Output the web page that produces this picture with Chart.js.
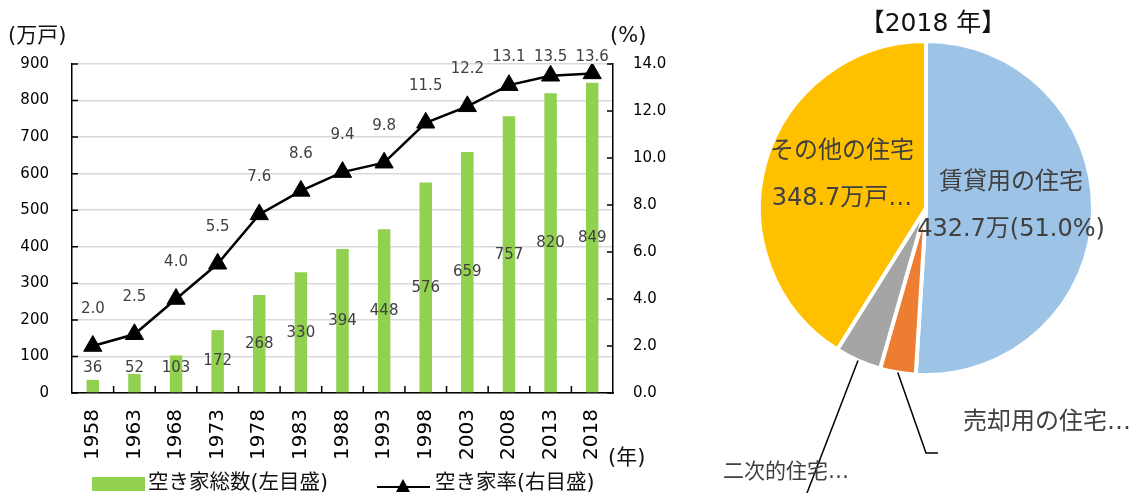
<!DOCTYPE html>
<html><head><meta charset="utf-8">
<script src="https://cdn.jsdelivr.net/npm/chart.js@4.4.1/dist/chart.umd.min.js"></script>
<style>
html,body{margin:0;padding:0;background:#fff;width:1131px;height:493px;overflow:hidden;position:relative;}
.t{position:absolute;white-space:nowrap;font-family:'DejaVu Sans','Noto Sans CJK JP',sans-serif;color:#111;}
canvas{position:absolute;top:0;}
</style></head><body>
<canvas id="bar" width="700" height="493" style="left:0"></canvas>
<canvas id="pie" width="431" height="493" style="left:700px"></canvas>
<div class="t" style="left:8px;top:25px;font-size:21px;line-height:21px">(万戸)</div>
<div class="t" style="left:610px;top:25px;font-size:21px;line-height:21px">(%)</div>
<div class="t" style="left:608px;top:447px;font-size:21px;line-height:21px">(年)</div>
<div class="t" style="left:933px;top:10px;font-size:25px;line-height:25px;transform:translateX(-50%)">【2018 年】</div>
<div style="position:absolute;left:92px;top:477px;width:53px;height:14px;background:#92D050"></div>
<div class="t" style="left:148px;top:472px;font-size:20.5px;line-height:20px">空き家総数(左目盛)</div>
<div style="position:absolute;left:377px;top:486px;width:53px;height:2px;background:#000"></div>
<div style="position:absolute;left:396px;top:479px;width:0;height:0;border-left:7.5px solid transparent;border-right:7.5px solid transparent;border-bottom:13px solid #000"></div>
<div class="t" style="left:435px;top:472px;font-size:20.5px;line-height:20px">空き家率(右目盛)</div>
<script>
// ---- data ----
const years = ['1958','1963','1968','1973','1978','1983','1988','1993','1998','2003','2008','2013','2018'];
const vacantHomes = [36, 52, 103, 172, 268, 330, 394, 448, 576, 659, 757, 820, 849];
const vacancyRate = [2.0, 2.5, 4.0, 5.5, 7.6, 8.6, 9.4, 9.8, 11.5, 12.2, 13.1, 13.5, 13.6];
const leftTicks = [0, 100, 200, 300, 400, 500, 600, 700, 800, 900];
const rightTicks = [0, 2, 4, 6, 8, 10, 12, 14];
const pieCategories = ['賃貸用の住宅', '売却用の住宅', '二次的住宅', 'その他の住宅'];
const pieValues = [432.7, 29.3, 38.1, 348.7];

const FONT = "'DejaVu Sans','Noto Sans CJK JP',sans-serif";
const pieColors = ['#9DC3E6', '#ED7D31', '#A5A5A5', '#FFC000'];

const tickMarks = {
  id: 'tickMarks',
  afterDraw(chart) {
    const ctx = chart.ctx, a = chart.chartArea;
    const x = chart.scales.x, y = chart.scales.y, y1 = chart.scales.y1;
    ctx.save();
    ctx.strokeStyle = '#000'; ctx.lineWidth = 1.5;
    ctx.beginPath();
    y.ticks.forEach(t => { const p = y.getPixelForValue(t.value); ctx.moveTo(a.left, p); ctx.lineTo(a.left + 6, p); });
    y1.ticks.forEach(t => { const p = y1.getPixelForValue(t.value); ctx.moveTo(a.right - 6, p); ctx.lineTo(a.right, p); });
    for (let i = 1; i < years.length; i++) {
      const p = (x.getPixelForValue(i - 1) + x.getPixelForValue(i)) / 2;
      ctx.moveTo(p, a.bottom); ctx.lineTo(p, a.bottom - 7);
    }
    ctx.stroke();
    ctx.restore();
  }
};

const valueLabels = {
  id: 'valueLabels',
  afterDatasetsDraw(chart) {
    const ctx = chart.ctx, a = chart.chartArea;
    const y = chart.scales.y;
    ctx.save();
    ctx.fillStyle = '#404040';
    ctx.font = '15px ' + FONT;
    ctx.textAlign = 'center';
    ctx.textBaseline = 'middle';
    const bars = chart.getDatasetMeta(0).data;
    bars.forEach((b, i) => {
      const v = vacantHomes[i];
      let py = y.getPixelForValue(v / 2);
      py = Math.min(py, y.getPixelForValue(0) - 25);
      ctx.fillText(String(v), b.x, py);
    });
    const pts = chart.getDatasetMeta(1).data;
    pts.forEach((p, i) => {
      const py = Math.max(p.y - 37, a.top - 7);
      ctx.fillText(vacancyRate[i].toFixed(1), p.x, py);
    });
    ctx.restore();
  }
};

new Chart(document.getElementById('bar'), {
  type: 'bar',
  data: {
    labels: years,
    datasets: [
      { type: 'bar', label: '空き家総数(左目盛)', data: vacantHomes, backgroundColor: '#92D050',
        yAxisID: 'y', order: 1, barPercentage: 0.3, categoryPercentage: 1 },
      { type: 'line', label: '空き家率(右目盛)', data: vacancyRate, yAxisID: 'y1', order: 0,
        borderColor: '#000', borderWidth: 2.5, pointStyle: 'triangle', pointRadius: 10.5,
        pointBackgroundColor: '#000', pointBorderColor: '#000', pointBorderWidth: 1, tension: 0, fill: false }
    ]
  },
  options: {
    responsive: false, animation: false, devicePixelRatio: 1,
    layout: { padding: { top: 64, left: 0, right: 0, bottom: 0 } },
    plugins: { legend: { display: false }, tooltip: { enabled: false } },
    scales: {
      x: {
        grid: { display: false, drawTicks: false },
        border: { display: true, color: '#000', width: 1.5 },
        ticks: { minRotation: 90, maxRotation: 90, autoSkip: false, padding: 16, color: '#000', font: { family: FONT, size: 20 } },
        afterFit(s) { s.height = 100; }
      },
      y: {
        position: 'left', min: 0, max: 900,
        afterBuildTicks(s) { s.ticks = leftTicks.map(v => ({ value: v })); },
        grid: { color: '#d9d9d9', lineWidth: 1.5, drawTicks: false },
        border: { display: true, color: '#000', width: 1.5 },
        ticks: { padding: 23, color: '#000', font: { family: FONT, size: 15 } },
        afterFit(s) { s.width = 72; }
      },
      y1: {
        position: 'right', min: 0, max: 14,
        afterBuildTicks(s) { s.ticks = rightTicks.map(v => ({ value: v })); },
        grid: { display: false, drawTicks: false },
        border: { display: true, color: '#000', width: 1.5 },
        ticks: { padding: 20, color: '#000', font: { family: FONT, size: 15 }, callback: v => Number(v).toFixed(1) },
        afterFit(s) { s.width = 87; }
      }
    }
  },
  plugins: [tickMarks, valueLabels]
});

const total = pieValues.reduce((s, v) => s + v, 0);
const pieLabelText = [
  [pieCategories[0], pieValues[0].toFixed(1) + '万(' + (pieValues[0] / total * 100).toFixed(1) + '%)'],
  [pieCategories[1] + '…'],
  [pieCategories[2] + '…'],
  [pieCategories[3], pieValues[3].toFixed(1) + '万戸…']
];

const pieLabels = {
  id: 'pieLabels',
  afterDraw(chart) {
    const ctx = chart.ctx;
    const arcs = chart.getDatasetMeta(0).data;
    ctx.save();
    ctx.strokeStyle = '#000'; ctx.lineWidth = 1.5;
    const leader = (i, pts) => {
      const a = arcs[i];
      const mid = (a.startAngle + a.endAngle) / 2;
      const r = a.outerRadius;
      ctx.beginPath();
      ctx.moveTo(a.x + Math.cos(mid) * r, a.y + Math.sin(mid) * r);
      pts.forEach(p => ctx.lineTo(p[0], p[1]));
      ctx.stroke();
    };
    leader(1, [[226, 453], [238, 453]]);
    leader(2, [[107, 493]]);
    ctx.fillStyle = '#404040';
    ctx.textBaseline = 'middle';
    ctx.font = '24px ' + FONT;
    ctx.textAlign = 'center';
    ctx.fillText(pieLabelText[0][0], 311, 183);
    ctx.fillText(pieLabelText[0][1], 311, 230);
    ctx.fillText(pieLabelText[3][0], 142, 152);
    ctx.fillText(pieLabelText[3][1], 142, 199);
    ctx.textAlign = 'left';
    ctx.fillText(pieLabelText[1][0], 263, 423);
    ctx.font = '21px ' + FONT;
    ctx.fillText(pieLabelText[2][0], 23, 473);
    ctx.restore();
  }
};

new Chart(document.getElementById('pie'), {
  type: 'pie',
  data: {
    labels: pieCategories,
    datasets: [{ data: pieValues, backgroundColor: pieColors, borderColor: '#fff', borderWidth: 4 }]
  },
  options: {
    responsive: false, animation: false, devicePixelRatio: 1,
    layout: { padding: { left: 57, right: 36, top: 39, bottom: 116 } },
    plugins: { legend: { display: false }, tooltip: { enabled: false } }
  },
  plugins: [pieLabels]
});
</script>
</body></html>
